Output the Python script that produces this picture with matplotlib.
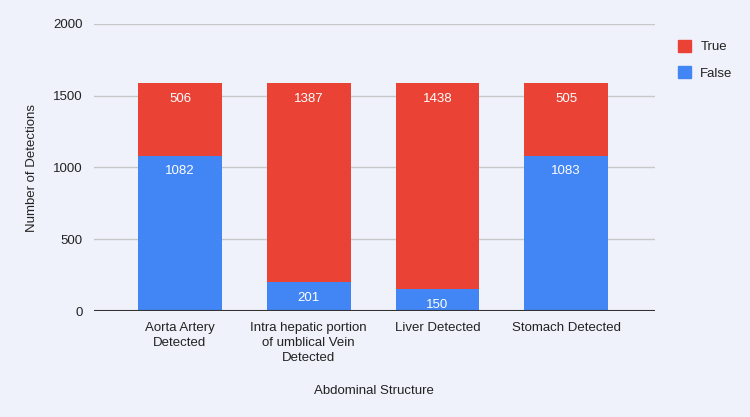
import matplotlib
matplotlib.use("Agg")
import matplotlib.pyplot as plt
from matplotlib.patches import Patch

categories = ["Aorta Artery\nDetected", "Intra hepatic portion\nof umblical Vein\nDetected",
              "Liver Detected", "Stomach Detected"]
false_vals = [1082, 201, 150, 1083]
true_vals = [506, 1387, 1438, 505]
yticks = [0, 500, 1000, 1500, 2000]

RED = "#ea4335"
BLUE = "#4285f4"
BG = "#eff2fa"

plt.rcParams['font.family'] = ['Liberation Sans', 'DejaVu Sans']

fig = plt.figure(figsize=(7.5, 4.17), dpi=100, facecolor=BG)
ax = fig.add_axes([94/750, 1-311/417, (655-94)/750, (311-24)/417])
ax.set_facecolor(BG)

x = list(range(len(categories)))
w = 0.65
ax.bar(x, false_vals, width=w, color=BLUE, zorder=3)
ax.bar(x, true_vals, bottom=false_vals, width=w, color=RED, zorder=3)

for i in x:
    ax.annotate(str(false_vals[i]), (i, false_vals[i]), xytext=(0, -7), textcoords="offset points",
                ha="center", va="top", color="white", fontsize=9.5, zorder=4)
    ax.annotate(str(true_vals[i]), (i, false_vals[i] + true_vals[i]), xytext=(0, -7),
                textcoords="offset points", ha="center", va="top", color="white", fontsize=9.5, zorder=4)

ax.set_xlim(-0.668, 3.69)
ax.set_ylim(0, 2000)
ax.set_yticks(yticks)
ax.set_yticklabels([str(v) for v in yticks], fontsize=9.5, color="#222222")
ax.set_xticks(x)
ax.set_xticklabels(categories, fontsize=9.5, color="#222222", linespacing=1.3)
ax.tick_params(axis="both", length=0, pad=8)
ax.grid(axis="y", color="#c8c8c8", linewidth=1, zorder=0)
ax.axhline(0, color="#333333", linewidth=1.5, zorder=5)
for s in ax.spines.values():
    s.set_visible(False)

ax.set_ylabel("Number of Detections", fontsize=9.5, color="#222222", labelpad=11)
fig.text(374/750, 1-391/417, "Abdominal Structure", ha="center", va="center", fontsize=9.5, color="#222222")

handles = [Patch(color=RED, label="True"), Patch(color=BLUE, label="False")]
leg = fig.legend(handles=handles, loc="upper left", bbox_to_anchor=(666/750, 1-28/417),
                 frameon=False, fontsize=9.5, handlelength=1.0, handleheight=1.0,
                 labelspacing=1.0, handletextpad=0.7)
for t in leg.get_texts():
    t.set_color("#222222")

fig.savefig("out.png", dpi=100, facecolor=BG)
